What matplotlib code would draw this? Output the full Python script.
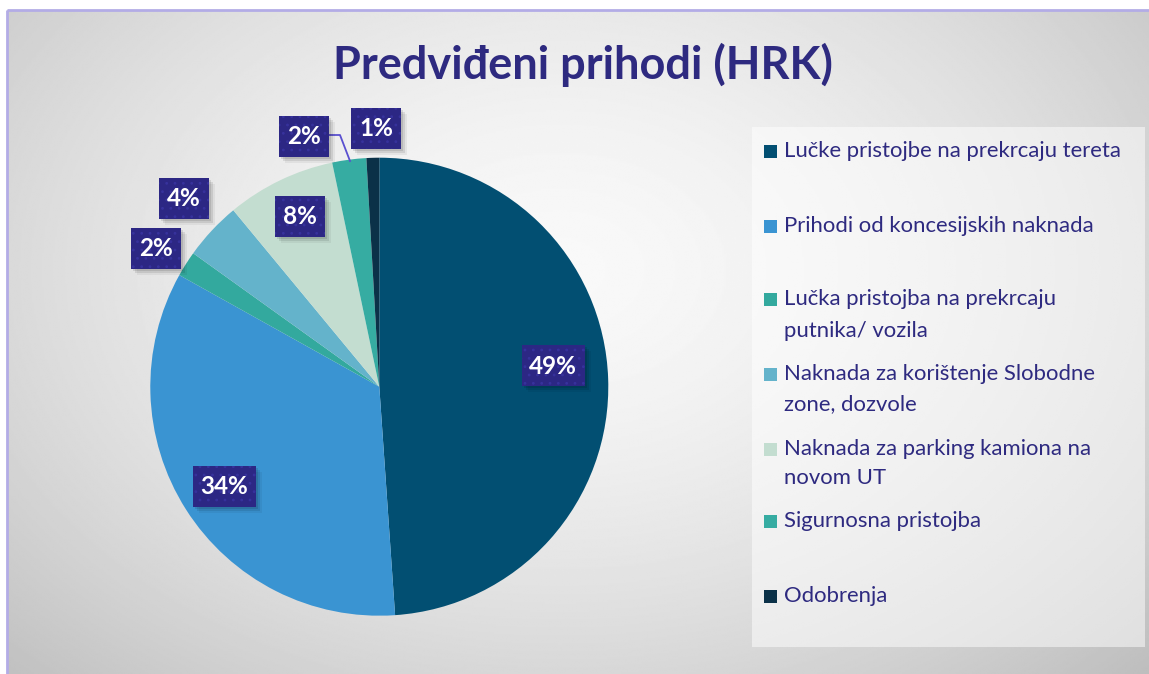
import numpy as np
import matplotlib
matplotlib.use("Agg")
import matplotlib.pyplot as plt
from matplotlib.patches import Rectangle

# ---------------- data ----------------
title = "Predviđeni prihodi (HRK)"
categories = [
    "Lučke pristojbe na prekrcaju tereta",
    "Prihodi od koncesijskih naknada",
    "Lučka pristojba na prekrcaju\nputnika/ vozila",
    "Naknada za korištenje Slobodne\nzone, dozvole",
    "Naknada za parking kamiona na\nnovom UT",
    "Sigurnosna pristojba",
    "Odobrenja",
]
shares = [48.9, 34.2, 1.8, 4.1, 7.7, 2.4, 0.9]   # percent of total
colors = ["#024f72", "#3a94d2", "#33a99e", "#64b3cb", "#c3ddd0", "#36aca2", "#0b3148"]

# ---------------- layout (pixel coordinates, y from top) ----------------
W, H = 1149, 674
plt.rcParams["font.family"] = ["Lato", "DejaVu Sans"]
plt.rcParams["hatch.linewidth"] = 0.8

fig = plt.figure(figsize=(W / 100, H / 100), dpi=100)
fig.patch.set_facecolor("white")
ax = fig.add_axes([0, 0, 1, 1])


def Y(y):
    return H - y


# background radial gradient inside the frame
x0, ytop = 7, 10
xs = np.linspace(x0, W, 700)
ys = np.linspace(ytop, H, 420)
XX, YY = np.meshgrid(xs, ys)
cx, cy = 560, 270
r = np.sqrt(((XX - cx) / 650) ** 2 + ((YY - cy) / 460) ** 2)
v = np.clip(0.975 - 0.16 * r ** 1.6, 0.7, 1.0)
ax.imshow(v, extent=(x0, W, Y(H), Y(ytop)), origin="upper", cmap="gray",
          vmin=0, vmax=1, aspect="auto", interpolation="bilinear", zorder=0)
ax.plot([x0, x0], [0, Y(ytop)], color="#b3ace6", lw=2, zorder=1,
        solid_capstyle="butt")
ax.plot([x0, W], [Y(ytop), Y(ytop)], color="#b3ace6", lw=2, zorder=1,
        solid_capstyle="butt")

# legend box
ax.add_patch(Rectangle((752, Y(647)), 1145 - 752, 647 - 127,
                       facecolor="white", alpha=0.5, lw=0, zorder=1))

# pie
pc = (379.3, Y(386.7))
R = 229
ax.pie(shares, colors=colors, startangle=90, counterclock=False,
       center=pc, radius=R, wedgeprops=dict(linewidth=0, zorder=2),
       frame=True)
ax.set_xlim(0, W)
ax.set_ylim(0, H)
ax.set_aspect("auto")
ax.axis("off")

# leader line for the small top label
ax.plot([329, 340, 350], [Y(135), Y(135), Y(161)], color="#5a50d0", lw=1.3,
        zorder=3)

# data labels
label_pos = [(553, 365), (224, 486), (156, 248), (184, 198), (300, 216),
             (304, 136), (376, 128)]
for s, (lx, ly) in zip(shares, label_pos):
    lab = f"{round(s)}%"
    bw = 63 if len(lab) == 3 else 50
    bh = 41
    for off, a in [(2, 0.10), (4, 0.09), (6, 0.05)]:
        ax.add_patch(Rectangle((lx - bw / 2 + off, Y(ly) - bh / 2 - off), bw, bh,
                               facecolor="black", alpha=a, lw=0, zorder=4))
    ax.add_patch(Rectangle((lx - bw / 2, Y(ly) - bh / 2), bw, bh,
                           facecolor="#2c2784", edgecolor="#37329c", hatch="..",
                           lw=0, zorder=5))
    ax.text(lx, Y(ly) - 1, lab, color="white", fontsize=17.5, fontweight="bold",
            ha="center", va="center", zorder=6)

# title
ax.text(583, Y(79), title, color="#2e2a80", fontsize=32.5, fontweight="bold",
        ha="center", va="baseline", zorder=6)

# legend entries
baselines = [[157], [231.7], [305, 336.7], [380, 410], [455, 484], [526.7],
             [601.7]]
for cat, col, bl in zip(categories, colors, baselines):
    lines = cat.split("\n")
    ax.add_patch(Rectangle((764, Y(bl[0] + 1)), 13, 13, facecolor=col, lw=0,
                           zorder=6))
    for ln, b in zip(lines, bl):
        ax.text(784, Y(b), ln, color="#2e2a80", fontsize=15.9, ha="left",
                va="baseline", zorder=6)

fig.savefig("out.png", dpi=100, facecolor="white")
